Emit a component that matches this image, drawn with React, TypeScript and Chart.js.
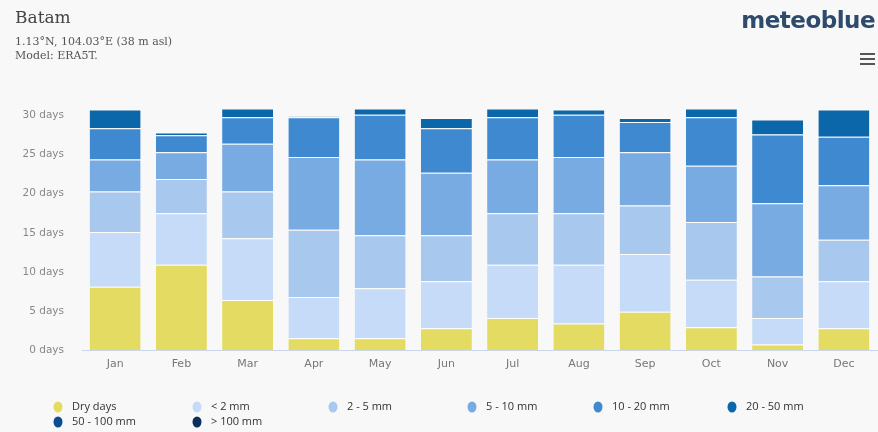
import React, { useEffect, useRef } from "react";
import { Chart, registerables } from "chart.js";

Chart.register(...registerables);

const months = ["Jan", "Feb", "Mar", "Apr", "May", "Jun", "Jul", "Aug", "Sep", "Oct", "Nov", "Dec"];
const dryDays = [8.1, 10.9, 6.4, 1.5, 1.5, 2.8, 4.1, 3.4, 4.9, 2.9, 0.7, 2.8];
const under2mm = [7.0, 6.6, 7.9, 5.3, 6.4, 6.0, 6.8, 7.5, 7.4, 6.1, 3.4, 6.0];
const mm2to5 = [5.2, 4.4, 6.0, 8.6, 6.8, 5.9, 6.6, 6.6, 6.2, 7.4, 5.3, 5.3];
const mm5to10 = [4.1, 3.4, 6.1, 9.3, 9.7, 8.0, 6.9, 7.2, 6.8, 7.2, 9.4, 7.0];
const mm10to20 = [4.0, 2.2, 3.4, 5.1, 5.7, 5.7, 5.4, 5.4, 3.9, 6.2, 8.8, 6.2];
const mm20to50 = [2.4, 0.35, 1.1, 0.1, 0.8, 1.3, 1.1, 0.7, 0.5, 1.1, 1.9, 3.5];
const mm50to100 = [0, 0, 0, 0, 0, 0, 0, 0, 0, 0, 0, 0];
const over100mm = [0, 0, 0, 0, 0, 0, 0, 0, 0, 0, 0, 0];

const seriesNames = ["Dry days", "< 2 mm", "2 - 5 mm", "5 - 10 mm", "10 - 20 mm", "20 - 50 mm", "50 - 100 mm", "> 100 mm"];
const seriesColors = ["#e4dc62", "#c6dbf7", "#a9c8ee", "#78abe2", "#3f89d0", "#0b67aa", "#0a4d95", "#0b2f5c"];
const yTickValues = [0, 5, 10, 15, 20, 25, 30];

const legendX = [58, 197, 333, 472, 598, 732, 58, 197];
const legendRow = [0, 0, 0, 0, 0, 0, 1, 1];

const legendPlugin = {
  id: "gridLegend",
  afterDraw(chart: any) {
    const ctx = chart.ctx;
    ctx.save();
    ctx.font = "11px 'Open Sans', sans-serif";
    ctx.textBaseline = "middle";
    chart.data.datasets.forEach((ds: any, i: number) => {
      const x = legendX[i];
      const y = 407 + legendRow[i] * 15;
      ctx.fillStyle = ds.backgroundColor;
      ctx.beginPath();
      ctx.ellipse(x, y, 4.5, 5.5, 0, 0, Math.PI * 2);
      ctx.fill();
      ctx.fillStyle = "#333";
      ctx.textAlign = "left";
      ctx.fillText(ds.label, x + 14, y);
    });
    ctx.restore();
  },
};

export default function App() {
  const canvasRef = useRef<HTMLCanvasElement | null>(null);

  useEffect(() => {
    document.body.style.margin = "0";
    document.body.style.background = "#f8f8f8";
    const seriesData = [dryDays, under2mm, mm2to5, mm5to10, mm10to20, mm20to50, mm50to100, over100mm];
    const chart = new Chart(canvasRef.current as HTMLCanvasElement, {
      type: "bar",
      data: {
        labels: months,
        datasets: seriesData.map((d, i) => ({
          label: seriesNames[i],
          data: d,
          backgroundColor: seriesColors[i],
          borderColor: "rgba(255,255,255,0.85)",
          borderWidth: { top: 1, left: 0, right: 0, bottom: 0 },
          borderSkipped: false,
          categoryPercentage: 1,
          barPercentage: 0.77,
        })),
      },
      options: {
        animation: false,
        responsive: false,
        layout: { padding: { top: 100, left: 0, right: 1, bottom: 52 } },
        plugins: { legend: { display: false }, title: { display: false }, tooltip: { enabled: false } },
        scales: {
          x: {
            stacked: true,
            grid: { display: false, drawTicks: false },
            border: { display: true, color: "#ccd6eb" },
            ticks: { color: "#777", font: { size: 11, family: "'DejaVu Sans', sans-serif" }, padding: 8 },
            afterFit(scale: any) { scale.height = 30; },
          },
          y: {
            stacked: true,
            min: 0,
            max: 32,
            grid: { display: false, drawTicks: false },
            border: { display: false },
            afterBuildTicks(scale: any) {
              scale.ticks = yTickValues.map((v) => ({ value: v }));
            },
            ticks: {
              color: "#888",
              font: { size: 10.5, family: "'DejaVu Sans', sans-serif" },
              padding: 18,
              callback: (v: any) => `${v} days`,
            },
            afterFit(scale: any) { scale.width = 82; },
          },
        },
      },
      plugins: [legendPlugin],
    });
    return () => chart.destroy();
  }, []);

  return (
    <div style={{ position: "relative", width: 878, height: 432, background: "#f8f8f8", overflow: "hidden" }}>
      <canvas ref={canvasRef} width={878} height={432} style={{ position: "absolute", left: 0, top: 0 }} />
      <div style={{ position: "absolute", left: 15, top: 7, fontFamily: "'DejaVu Serif', serif", fontSize: 17, color: "#444" }}>Batam</div>
      <div style={{ position: "absolute", left: 15, top: 35, fontFamily: "'DejaVu Serif', serif", fontSize: 11, lineHeight: "14px", color: "#555" }}>
        1.13°N, 104.03°E (38 m asl)<br />Model: ERA5T.
      </div>
      <div style={{ position: "absolute", right: 3, top: 7, fontFamily: "'DejaVu Sans', sans-serif", fontWeight: 700, fontSize: 23, letterSpacing: -0.5, color: "#2e4b6b" }}>meteoblue</div>
      <div style={{ position: "absolute", left: 860, top: 53, width: 15, height: 12 }}>
        <div style={{ height: 2, background: "#555", marginBottom: 3 }} />
        <div style={{ height: 2, background: "#555", marginBottom: 3 }} />
        <div style={{ height: 2, background: "#555" }} />
      </div>
    </div>
  );
}
